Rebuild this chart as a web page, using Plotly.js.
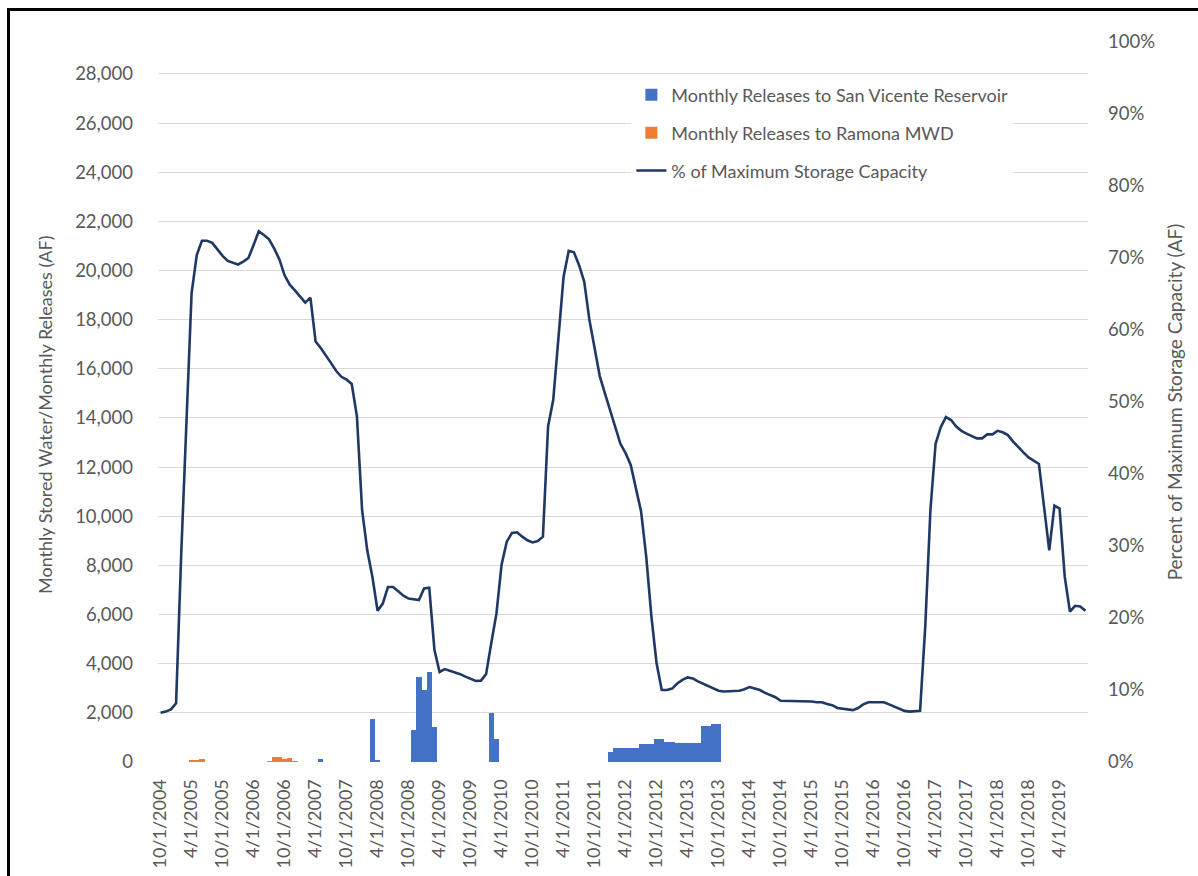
<!DOCTYPE html>
<html>
<head>
<meta charset="utf-8">
<script src="https://cdn.plot.ly/plotly-3.0.1.min.js"></script>
<style>
  html, body { margin: 0; padding: 0; background: #ffffff; }
  #wrap { position: relative; width: 1198px; height: 876px; }
  #chart { width: 1198px; height: 876px; }
  #frame { position: absolute; left: 7px; top: 8px; width: 1191px; height: 868px;
           border-left: 3px solid #000; border-top: 3px solid #000; box-sizing: border-box; pointer-events: none; }
</style>
</head>
<body>
<div id="wrap">
  <div id="chart"></div>
  <div id="frame"></div>
</div>
<script>
// Monthly categories (10/1/2004 .. 9/1/2019)
const months = [
  "10/1/2004","11/1/2004","12/1/2004",
  "1/1/2005","2/1/2005","3/1/2005","4/1/2005","5/1/2005","6/1/2005","7/1/2005","8/1/2005","9/1/2005","10/1/2005","11/1/2005","12/1/2005",
  "1/1/2006","2/1/2006","3/1/2006","4/1/2006","5/1/2006","6/1/2006","7/1/2006","8/1/2006","9/1/2006","10/1/2006","11/1/2006","12/1/2006",
  "1/1/2007","2/1/2007","3/1/2007","4/1/2007","5/1/2007","6/1/2007","7/1/2007","8/1/2007","9/1/2007","10/1/2007","11/1/2007","12/1/2007",
  "1/1/2008","2/1/2008","3/1/2008","4/1/2008","5/1/2008","6/1/2008","7/1/2008","8/1/2008","9/1/2008","10/1/2008","11/1/2008","12/1/2008",
  "1/1/2009","2/1/2009","3/1/2009","4/1/2009","5/1/2009","6/1/2009","7/1/2009","8/1/2009","9/1/2009","10/1/2009","11/1/2009","12/1/2009",
  "1/1/2010","2/1/2010","3/1/2010","4/1/2010","5/1/2010","6/1/2010","7/1/2010","8/1/2010","9/1/2010","10/1/2010","11/1/2010","12/1/2010",
  "1/1/2011","2/1/2011","3/1/2011","4/1/2011","5/1/2011","6/1/2011","7/1/2011","8/1/2011","9/1/2011","10/1/2011","11/1/2011","12/1/2011",
  "1/1/2012","2/1/2012","3/1/2012","4/1/2012","5/1/2012","6/1/2012","7/1/2012","8/1/2012","9/1/2012","10/1/2012","11/1/2012","12/1/2012",
  "1/1/2013","2/1/2013","3/1/2013","4/1/2013","5/1/2013","6/1/2013","7/1/2013","8/1/2013","9/1/2013","10/1/2013","11/1/2013","12/1/2013",
  "1/1/2014","2/1/2014","3/1/2014","4/1/2014","5/1/2014","6/1/2014","7/1/2014","8/1/2014","9/1/2014","10/1/2014","11/1/2014","12/1/2014",
  "1/1/2015","2/1/2015","3/1/2015","4/1/2015","5/1/2015","6/1/2015","7/1/2015","8/1/2015","9/1/2015","10/1/2015","11/1/2015","12/1/2015",
  "1/1/2016","2/1/2016","3/1/2016","4/1/2016","5/1/2016","6/1/2016","7/1/2016","8/1/2016","9/1/2016","10/1/2016","11/1/2016","12/1/2016",
  "1/1/2017","2/1/2017","3/1/2017","4/1/2017","5/1/2017","6/1/2017","7/1/2017","8/1/2017","9/1/2017","10/1/2017","11/1/2017","12/1/2017",
  "1/1/2018","2/1/2018","3/1/2018","4/1/2018","5/1/2018","6/1/2018","7/1/2018","8/1/2018","9/1/2018","10/1/2018","11/1/2018","12/1/2018",
  "1/1/2019","2/1/2019","3/1/2019","4/1/2019","5/1/2019","6/1/2019","7/1/2019","8/1/2019","9/1/2019"
];

// Tick labels shown on the category axis (every 6 months)
const tickLabels = [
  "10/1/2004","4/1/2005","10/1/2005","4/1/2006","10/1/2006","4/1/2007","10/1/2007","4/1/2008",
  "10/1/2008","4/1/2009","10/1/2009","4/1/2010","10/1/2010","4/1/2011","10/1/2011","4/1/2012",
  "10/1/2012","4/1/2013","10/1/2013","4/1/2014","10/1/2014","4/1/2015","10/1/2015","4/1/2016",
  "10/1/2016","4/1/2017","10/1/2017","4/1/2018","10/1/2018","4/1/2019"
];

// Monthly Releases to San Vicente Reservoir (AF)
const releasesSanVicente = [
  0,0,0,
  0,0,0,0,0,0,0,0,0,0,0,0,
  0,0,0,0,0,0,0,0,0,0,0,0,
  0,0,0,0,120,0,0,0,0,0,0,0,
  0,0,1750,70,0,0,0,0,0,0,1300,3450,
  2950,3680,1420,0,0,0,0,0,0,0,0,0,
  0,2000,930,0,0,0,0,0,0,0,0,0,
  0,0,0,0,0,0,0,0,0,0,0,0,
  400,570,570,570,570,570,720,720,720,940,940,830,
  830,790,790,790,790,790,1470,1470,1540,1540,0,0,
  0,0,0,0,0,0,0,0,0,0,0,0,
  0,0,0,0,0,0,0,0,0,0,0,0,
  0,0,0,0,0,0,0,0,0,0,0,0,
  0,0,0,0,0,0,0,0,0,0,0,0,
  0,0,0,0,0,0,0,0,0,0,0,0,
  0,0,0,0,0,0,0,0,0
];

// Monthly Releases to Ramona MWD (AF)
const releasesRamona = [
  0,0,0,
  0,0,0,70,100,130,0,0,0,0,0,0,
  0,0,0,0,0,0,50,220,220,110,175,50,
  0,0,0,0,0,0,0,0,0,0,0,0,
  0,0,0,0,0,0,0,0,0,0,0,0,
  0,0,0,0,0,0,0,0,0,0,0,0,
  0,0,0,0,0,0,0,0,0,0,0,0,
  0,0,0,0,0,0,0,0,0,0,0,0,
  0,0,0,0,0,0,0,0,0,0,0,0,
  0,0,0,0,0,0,0,0,0,0,0,0,
  0,0,0,0,0,0,0,0,0,0,0,0,
  0,0,0,0,0,0,0,0,0,0,0,0,
  0,0,0,0,0,0,0,0,0,0,0,0,
  0,0,0,0,0,0,0,0,0,0,0,0,
  0,0,0,0,0,0,0,0,0,0,0,0,
  0,0,0,0,0,0,0,0,0
];

// % of Maximum Storage Capacity
const storagePct = [
  6.85,7.0,7.3,
  8.15,29,47,65.1,70.4,72.4,72.4,72.1,71.2,70.3,69.6,69.3,
  69.1,69.5,70.0,71.8,73.7,73.2,72.6,71.3,69.8,67.6,66.3,65.5,
  64.6,63.8,64.5,58.4,57.5,56.5,55.4,54.3,53.5,53.1,52.5,48.0,
  35.0,29.4,25.7,21.0,22.0,24.3,24.3,23.7,23.1,22.7,22.6,22.5,
  24.1,24.2,15.6,12.5,12.9,12.7,12.5,12.2,11.85,11.5,11.25,11.3,
  12.2,16.5,20.6,27.4,30.6,31.8,31.9,31.3,30.8,30.5,30.7,31.3,
  46.6,50.3,58.6,67.4,71.0,70.8,69.0,66.7,61.4,57.7,53.6,51.2,
  48.9,46.3,44.2,42.9,41.25,38.0,34.8,28.5,20.2,13.7,10.0,10.0,
  10.2,10.9,11.4,11.75,11.6,11.2,10.9,10.55,10.2,9.9,9.8,9.8,
  9.9,9.9,10.1,10.4,10.2,10.0,9.6,9.26,9.0,8.5,8.5,8.5,
  8.5,8.5,8.5,8.4,8.3,8.3,8.05,7.9,7.5,7.4,7.35,7.2,
  7.5,8.0,8.3,8.3,8.3,8.3,8.0,7.7,7.3,7.1,7.0,7.0,
  7.1,18.8,35.0,44.2,46.5,47.9,47.5,46.6,46.0,45.6,45.3,44.95,
  44.95,45.5,45.5,46.0,45.8,45.4,44.5,43.7,43.0,42.3,41.8,41.4,
  35.4,29.4,35.6,35.2,25.7,20.9,21.7,21.6,21.0
];

const FONT = "Lato, 'Liberation Sans', Arial, sans-serif";
const GREY = "#595959";

const traces = [
  {
    type: "bar", name: "Monthly Releases to San Vicente Reservoir",
    x: months, y: releasesSanVicente,
    marker: { color: "#4472c4", line: { width: 0 } },
    legendgroup: "a", yaxis: "y"
  },
  {
    type: "bar", name: "Monthly Releases to Ramona MWD",
    x: months, y: releasesRamona,
    marker: { color: "#ed7d31", line: { width: 0 } },
    legendgroup: "b", yaxis: "y"
  },
  {
    type: "scatter", mode: "lines", name: "% of Maximum Storage Capacity",
    x: months, y: storagePct,
    line: { color: "#1f3864", width: 2.6 },
    legendgroup: "c", yaxis: "y2"
  }
];

const layout = {
  width: 1198, height: 876,
  margin: { l: 158, r: 110, t: 42, b: 114, pad: 0 },
  paper_bgcolor: "#ffffff", plot_bgcolor: "#ffffff",
  font: { family: FONT, color: GREY, size: 18 },
  barmode: "stack", bargap: 0,
  showlegend: true,
  legend: {
    x: 0.509, y: 0.952, xanchor: "left", yanchor: "top",
    bgcolor: "#ffffff", borderwidth: 0,
    font: { family: FONT, size: 18, color: GREY },
    traceorder: "grouped", tracegroupgap: 11.5
  },
  xaxis: {
    type: "category", categoryorder: "array", categoryarray: months,
    range: [-0.5, months.length - 0.5],
    tickmode: "array", tickvals: tickLabels, ticktext: tickLabels,
    tickangle: -90, tickfont: { family: FONT, size: 18, color: GREY },
    showgrid: false, zeroline: false, showline: false,
    ticks: "outside", ticklen: 9, tickcolor: "rgba(0,0,0,0)"
  },
  yaxis: {
    range: [0, 29300], tick0: 0, dtick: 2000, tickformat: ",d",
    showgrid: true, gridcolor: "#d9d9d9", gridwidth: 1,
    zeroline: false, showline: false,
    ticks: "", ticklabelstandoff: 24,
    tickfont: { family: FONT, size: 18.5, color: GREY }
  },
  yaxis2: {
    overlaying: "y", side: "right",
    range: [0, 100], tick0: 0, dtick: 10, ticksuffix: "%",
    showgrid: false, zeroline: false, showline: false,
    ticks: "", ticklabelstandoff: 19,
    tickfont: { family: FONT, size: 18.5, color: GREY },
    title: { text: "Percent of Maximum Storage Capacity (AF)", font: { family: FONT, size: 19, color: GREY }, standoff: 14 }
  },
  annotations: [
    {
      text: "Monthly Stored Water/Monthly Releases (AF)",
      xref: "paper", yref: "paper",
      x: (45 - 158) / 930, y: (762 - 415) / 720,
      xanchor: "center", yanchor: "middle",
      textangle: -90, showarrow: false,
      font: { family: FONT, size: 18, color: GREY }
    }
  ]
};

Plotly.newPlot("chart", traces, layout, { displayModeBar: false, staticPlot: true });
</script>
</body>
</html>
